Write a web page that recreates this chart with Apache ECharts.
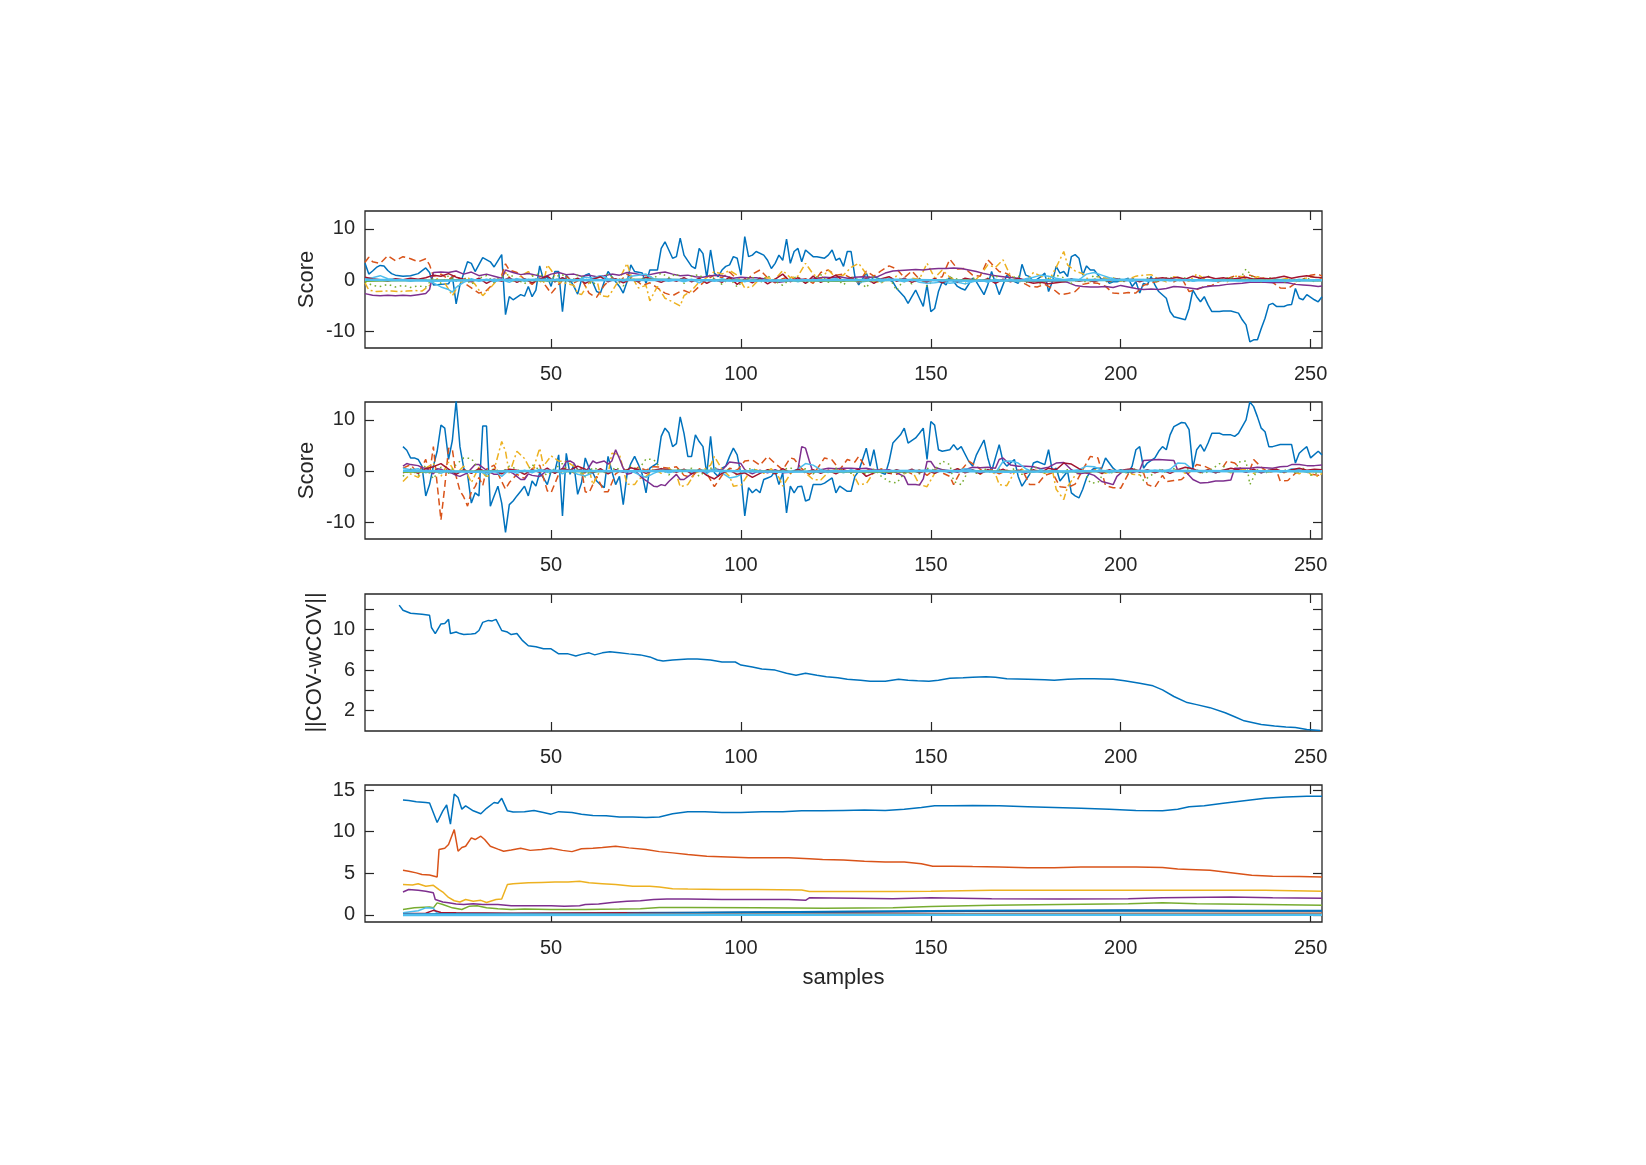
<!DOCTYPE html>
<html>
<head>
<meta charset="utf-8">
<title>scores</title>
<script src="https://cdn.jsdelivr.net/npm/echarts@6/dist/echarts.min.js"></script>
<style>
  html, body { margin: 0; padding: 0; background: #ffffff; }
  #main { width: 1646px; height: 1165px; }
</style>
</head>
<body>
<div id="main"></div>
<script>
// tick values
var xTicks = [50, 100, 150, 200, 250];
var scoreTicks = [-10, 0, 10];
var covTicks = [2, 4, 6, 8, 10, 12];
var covTickLabels = [2, 6, 10];
var eigTicks = [0, 5, 10, 15];

// ---- panel 1: scores ----
var s1Blue = [[1,3.3],[2,1.2],[3,1.8],[4,2.5],[5,2.9],[6,2.8],[7,1.9],[8,1.3],[9,1.0],[11,0.8],[13,0.9],[15,1.3],[17,2.4],[18,1.5],[19,-0.9],[21,-0.8],[23,-0.7],[24,0.8],[25,-4.6],[26,-0.9],[28,3.6],[29,3.3],[30,1.7],[32,4.4],[34,3.6],[35,2.6],[37,5.0],[38,-6.7],[39,-3.2],[40,-3.8],[42,-2.8],[43,-3.1],[44,-1.2],[45,-3.2],[46,-1.9],[47,2.8],[48,0.1],[49,0.7],[50,-1.2],[51,1.7],[52,1.7],[53,-6.1],[54,1.0],[55,0.1],[56,-1.2],[57,-2.7],[58,0.1],[59,1.0],[60,1.3],[62,-2.2],[63,-2.5],[64,-0.3],[65,1.7],[66,0.7],[68,-1.2],[69,-2.5],[70,-0.3],[71,3.0],[72,1.7],[74,1.4],[75,-0.6],[76,2.0],[78,2.0],[79,6.2],[80,7.5],[82,4.3],[83,4.6],[84,8.2],[85,4.9],[87,2.7],[88,2.3],[89,6.2],[90,5.2],[91,0.5],[92,5.9],[93,1.4],[94,0.7],[95,2.0],[96,2.7],[97,3.0],[98,4.6],[99,4.3],[100,1.0],[101,8.5],[102,4.6],[103,4.9],[104,5.6],[106,4.9],[107,3.9],[108,2.3],[109,3.3],[110,4.9],[111,3.9],[112,8.0],[113,3.3],[114,5.6],[115,6.2],[116,3.6],[117,5.9],[119,4.6],[120,4.6],[122,4.3],[123,4.9],[124,5.9],[125,3.9],[126,4.3],[127,2.7],[128,5.6],[129,5.6],[130,0.7],[131,-0.9],[133,1.4],[134,-0.3],[135,0.7],[137,0.1],[139,0.1],[140,-0.3],[141,-1.6],[143,-3.2],[144,-4.5],[145,-3.2],[146,-1.9],[147,-3.5],[148,-5.1],[149,-0.9],[150,-6.1],[151,-5.5],[152,-2.2],[153,-0.3],[154,-0.9],[155,0.7],[157,-1.2],[158,-1.6],[159,-1.9],[161,0.4],[162,-0.3],[164,-2.8],[165,-0.9],[166,1.7],[168,-2.8],[169,-0.9],[170,1.0],[171,0.1],[173,-0.6],[174,3.1],[175,1.0],[176,0.7],[177,-0.3],[179,0.7],[180,1.4],[181,-2.2],[182,-0.3],[183,2.7],[184,1.4],[185,1.7],[186,0.7],[187,4.6],[188,5.0],[189,4.3],[190,1.0],[191,2.8],[192,2.0],[193,2.0],[195,0.1],[196,0.4],[197,-0.6],[198,-0.3],[199,-0.3],[201,0.1],[202,0.4],[203,-1.2],[204,-0.3],[205,-2.5],[206,-0.6],[207,-0.9],[208,0.7],[209,-0.9],[210,-2.2],[212,-3.5],[213,-6.1],[214,-7.1],[216,-7.5],[217,-7.7],[218,-5.5],[219,-1.9],[220,-3.2],[221,-4.2],[222,-3.2],[223,-4.8],[224,-6.1],[226,-6.1],[227,-6.0],[229,-6.0],[231,-6.4],[232,-7.7],[233,-8.7],[234,-12.0],[235,-11.6],[236,-11.6],[237,-9.4],[238,-7.4],[239,-4.8],[240,-4.5],[241,-5.1],[243,-5.1],[244,-4.8],[245,-4.7],[246,-1.6],[247,-3.5],[248,-3.8],[249,-2.8],[251,-3.8],[252,-4.2],[253,-3.2]];
var s1Orange = [[1,3.5],[2,4.5],[3,3.6],[5,3.3],[7,4.8],[9,3.8],[11,4.6],[13,4.2],[15,3.6],[17,4.2],[18,3.0],[19,0.8],[21,1.2],[23,0.2],[25,1.0],[27,-0.5],[29,-1.5],[31,-2.5],[33,-2.0],[35,-0.5],[37,1.0],[38,3.2],[39,2.0],[41,1.5],[43,0.2],[45,-0.8],[47,0.5],[49,-1.5],[50,-2.6],[52,-0.8],[54,0.8],[56,-0.5],[58,0.3],[60,-2.5],[61,-3.0],[62,-3.3],[64,-1.0],[66,0.5],[68,-0.3],[70,1.2],[72,0.3],[74,-1.0],[76,-0.5],[78,-1.5],[80,-2.5],[82,-3.0],[84,-2.2],[85,-2.0],[87,-2.6],[89,-1.2],[91,0.2],[93,1.0],[95,0.5],[97,1.6],[99,0.2],[101,-0.5],[103,1.2],[105,2.0],[107,0.5],[109,-0.5],[111,0.3],[113,0.7],[115,-0.2],[117,0.3],[119,-0.6],[121,1.5],[123,2.0],[125,1.0],[127,1.2],[129,0.4],[131,-0.5],[133,1.8],[135,0.8],[137,1.9],[139,2.8],[141,2.2],[143,0.5],[145,1.8],[147,0.2],[149,-0.6],[151,0.3],[153,0.7],[155,4.1],[157,2.2],[159,2.3],[161,1.0],[163,0.8],[165,4.0],[166,3.2],[168,1.7],[170,1.3],[172,0.2],[174,-0.4],[176,-1.2],[178,-1.3],[180,-0.8],[182,-1.6],[184,-2.8],[186,-2.6],[188,-2.2],[190,-0.8],[192,-0.5],[194,-0.6],[196,-1.2],[198,-2.5],[200,-2.6],[202,-2.4],[204,-2.5],[206,-1.0],[208,-0.5],[210,-0.2],[212,0.3],[214,-0.3],[216,0.5],[218,-2.2],[220,-1.8],[222,-1.2],[224,-1.0],[226,-0.2],[228,0.3],[230,0.8],[232,0.7],[234,1.0],[236,0.5],[238,0.2],[240,-0.4],[242,-1.5],[244,-1.6],[246,-0.6],[248,0.2],[250,1.0],[252,1.2],[253,0.8]];
var s1Yellow = [[1,-0.5],[2,-1.9],[4,-2.2],[6,-2.1],[8,-2.1],[10,-2.2],[12,-2.1],[14,-2.0],[16,-2.1],[18,-1.0],[20,0.3],[22,-0.5],[24,-3.0],[26,-0.5],[28,0.6],[30,-0.8],[32,-3.0],[34,-1.5],[36,0.2],[38,1.5],[40,-0.2],[42,0.8],[44,1.7],[46,0.3],[48,-0.6],[49,3.0],[50,2.0],[52,-0.4],[54,-0.6],[56,-1.0],[57,-2.5],[58,-2.8],[60,-0.5],[62,0.3],[63,-3.0],[65,-3.2],[66,-2.2],[68,0.2],[70,3.3],[71,1.0],[73,-1.5],[75,-1.0],[76,-4.0],[78,-1.2],[80,-3.5],[82,-4.2],[84,-5.0],[85,-3.0],[87,-2.0],[89,-0.3],[91,0.5],[93,1.7],[95,1.2],[97,1.9],[99,1.0],[101,-1.5],[103,-1.2],[105,0.3],[107,0.5],[109,0.2],[111,1.9],[113,0.5],[115,0.8],[117,3.3],[119,1.2],[121,0.2],[123,2.0],[125,0.5],[127,1.0],[129,2.5],[131,3.3],[133,1.2],[135,-0.2],[137,-0.5],[139,0.3],[141,0.8],[143,-0.3],[145,0.4],[147,0.2],[149,3.3],[151,0.5],[153,2.0],[155,0.6],[157,-0.3],[159,0.3],[161,-0.5],[163,1.0],[165,3.0],[167,2.5],[169,4.0],[171,0.8],[173,0.1],[175,-0.3],[177,1.5],[179,0.8],[181,-0.2],[183,2.5],[185,5.6],[186,3.0],[188,1.8],[190,1.3],[192,-0.3],[194,0.7],[196,0.4],[198,0.5],[200,-0.2],[202,0.2],[204,0.8],[206,1.0],[208,1.1],[210,0.2],[212,-0.3],[214,0.7],[216,0.3],[218,-0.2],[220,1.2],[222,0.3],[224,-0.2],[226,0.2],[228,-0.3],[230,0.8],[232,0.7],[234,-0.2],[236,0.7],[238,0.4],[240,-0.2],[242,0.1],[244,0.4],[246,-0.3],[248,0.2],[250,0.7],[252,0.5],[253,0.3]];
var s1Purple = [[1,-2.6],[3,-2.9],[5,-3.0],[7,-2.9],[9,-3.0],[11,-2.9],[13,-3.0],[15,-2.8],[17,-2.6],[18,-1.8],[19,1.5],[21,1.6],[23,1.5],[25,1.8],[27,1.2],[29,1.6],[31,0.9],[33,1.2],[35,0.8],[37,0.4],[38,2.0],[40,1.5],[42,1.1],[44,1.3],[46,1.0],[48,0.6],[50,1.2],[52,1.5],[54,1.1],[56,1.2],[58,0.8],[60,1.0],[62,0.7],[64,0.9],[66,1.2],[68,1.0],[70,1.5],[72,1.3],[74,1.0],[76,1.1],[78,1.4],[80,1.6],[82,1.2],[84,0.9],[86,1.0],[88,0.7],[90,0.6],[92,0.9],[94,1.0],[96,0.8],[98,0.4],[100,0.6],[102,0.5],[104,0.5],[106,0.3],[108,-0.2],[110,-0.4],[112,-0.2],[114,0.1],[116,0.2],[118,0.1],[120,0.4],[122,0.6],[124,0.5],[126,0.7],[128,0.4],[130,0.6],[132,0.7],[134,0.6],[136,0.7],[138,1.4],[140,1.8],[142,1.9],[144,2.0],[146,2.1],[148,2.0],[150,2.2],[152,2.3],[154,2.3],[156,2.4],[158,2.3],[160,2.0],[162,1.7],[164,1.3],[166,1.0],[168,0.8],[170,0.6],[172,0.5],[174,0.2],[176,-0.1],[178,-0.2],[180,-0.3],[182,-0.1],[184,-0.2],[186,-0.4],[188,-1.0],[190,-1.2],[192,-1.3],[194,-1.3],[196,-1.2],[198,-1.4],[200,-1.0],[202,-1.3],[204,-1.6],[206,-1.8],[208,-1.7],[210,-1.8],[212,-1.6],[214,-1.2],[216,-1.3],[218,-1.5],[220,-1.7],[222,-1.3],[224,-1.1],[226,-1.0],[228,-0.8],[230,-0.7],[232,-0.6],[234,-0.4],[236,-0.4],[238,-0.4],[240,-0.5],[242,-0.4],[244,-0.5],[246,-0.8],[248,-0.9],[250,-1.0],[252,-1.2],[253,-1.1]];
var s1Green = [[1,-0.3],[3,-1.0],[5,-1.2],[7,-0.8],[9,-1.3],[11,-1.0],[13,-1.4],[15,-1.1],[17,-1.3],[19,0.5],[21,-0.6],[23,0.9],[25,-0.2],[27,0.6],[29,-0.8],[31,0.4],[33,0.9],[35,-0.4],[37,0.6],[39,1.2],[41,0.2],[43,-0.7],[45,0.8],[47,1.3],[49,-0.3],[51,0.7],[53,1.1],[55,-0.5],[57,1.0],[59,0.3],[61,-0.9],[63,0.5],[65,1.2],[67,0.2],[69,-1.1],[71,0.6],[73,-0.4],[75,1.0],[77,0.4],[79,1.4],[81,0.5],[83,1.3],[85,-0.6],[87,0.8],[89,1.1],[91,-0.3],[93,0.5],[95,-0.8],[97,0.4],[99,-1.3],[101,0.2],[103,0.6],[105,-0.5],[107,0.9],[109,-0.2],[111,-1.0],[113,0.3],[115,0.7],[117,-0.6],[119,0.2],[121,1.1],[123,-0.4],[125,0.5],[127,-0.9],[129,0.6],[131,0.1],[133,-1.5],[135,0.8],[137,-0.3],[139,0.6],[141,-2.0],[143,0.3],[145,-0.7],[147,0.4],[149,-1.2],[151,0.3],[153,-0.5],[155,0.6],[157,0.2],[159,-0.7],[161,0.5],[163,-0.3],[165,0.4],[167,1.0],[169,-0.4],[171,0.3],[173,0.9],[175,-0.5],[177,0.2],[179,-0.8],[181,0.4],[183,1.0],[185,0.5],[187,-0.6],[189,0.3],[191,-0.4],[193,1.0],[195,0.2],[197,-0.5],[199,0.6],[201,-0.3],[203,0.4],[205,-0.2],[207,0.5],[209,-0.4],[211,0.3],[213,0.6],[215,-0.3],[217,0.5],[219,-0.2],[221,0.4],[223,0.8],[225,-0.3],[227,0.3],[229,0.6],[231,-0.2],[233,2.2],[235,0.4],[237,-0.3],[239,0.5],[241,0.2],[243,-0.4],[245,0.3],[247,-0.2],[249,0.5],[251,-0.3],[253,0.2]];
var s1LightBlue = [[1,0.2],[3,0.5],[5,0.9],[7,0.3],[9,0.2],[11,0.1],[13,-0.2],[15,0.1],[17,0.0],[19,-0.5],[21,-1.3],[23,-1.8],[24,-2.3],[25,-1.4],[27,-0.4],[29,0.3],[31,-0.2],[33,0.2],[35,-0.3],[37,0.1],[39,-0.4],[41,0.3],[43,-0.2],[45,0.1],[47,0.3],[49,-0.2],[51,0.1],[53,0.4],[55,-0.3],[57,0.1],[59,0.6],[61,0.4],[63,0.9],[65,0.3],[67,0.1],[69,-0.3],[71,0.8],[73,1.0],[75,1.2],[77,0.3],[79,0.0],[81,-0.2],[83,0.1],[85,-0.3],[87,0.2],[89,-0.5],[91,0.1],[93,-0.2],[95,0.3],[97,-0.1],[99,0.2],[101,-0.3],[103,0.1],[105,0.2],[107,-0.2],[109,0.1],[111,-0.1],[113,0.2],[115,-0.3],[117,0.1],[119,0.0],[121,-0.2],[123,0.1],[125,0.3],[127,-0.1],[129,0.2],[131,-0.4],[133,-0.2],[135,0.1],[137,-0.3],[139,0.3],[141,0.0],[143,-0.3],[145,0.2],[147,-0.4],[149,-0.6],[151,-0.5],[153,-0.3],[155,-0.6],[157,-0.4],[159,-0.7],[161,-0.3],[163,0.1],[165,-0.4],[167,0.2],[169,-0.2],[171,0.1],[173,-0.3],[175,0.3],[177,0.6],[179,1.0],[181,0.8],[183,0.4],[185,0.1],[187,0.3],[189,0.1],[191,1.2],[193,1.5],[195,1.0],[197,0.5],[199,0.2],[201,0.0],[203,-0.2],[205,0.1],[207,-0.2],[209,0.0],[211,0.2],[213,-0.1],[215,0.1],[217,0.3],[219,-0.2],[221,0.1],[223,0.0],[225,-0.2],[227,0.1],[229,0.2],[231,-0.1],[233,0.1],[235,0.3],[237,0.0],[239,-0.2],[241,0.2],[243,0.1],[245,-0.1],[247,0.2],[249,0.0],[251,-0.1],[253,0.1]];
var s1DarkRed = [[1,0.6],[3,0.3],[5,0.1],[7,-0.2],[9,0.3],[11,0.1],[13,0.4],[15,0.2],[17,0.5],[19,1.0],[21,0.8],[23,1.3],[25,0.6],[27,0.2],[29,-0.3],[31,0.4],[33,-0.6],[35,0.2],[37,-0.2],[39,0.5],[41,-0.4],[43,0.3],[45,-0.5],[47,0.2],[49,0.8],[51,-0.3],[53,0.5],[55,-0.2],[57,0.4],[59,-0.6],[61,0.2],[63,0.7],[65,-0.3],[67,0.3],[69,-0.5],[71,0.2],[73,-0.3],[75,0.6],[77,0.1],[79,-0.4],[81,0.3],[83,-0.2],[85,0.5],[87,-0.3],[89,0.4],[91,-0.6],[93,0.2],[95,-0.4],[97,0.6],[99,-0.8],[101,0.3],[103,-0.5],[105,0.4],[107,-0.7],[109,0.2],[111,1.2],[113,-0.3],[115,0.5],[117,-0.6],[119,0.8],[121,-0.4],[123,0.3],[125,1.0],[127,-0.2],[129,0.5],[131,-0.3],[133,0.4],[135,-0.6],[137,0.3],[139,0.7],[141,-0.2],[143,0.4],[145,-0.4],[147,0.2],[149,-0.3],[151,0.3],[153,-0.5],[155,0.2],[157,-0.3],[159,0.4],[161,0.1],[163,-0.2],[165,0.3],[167,-0.6],[169,0.2],[171,-0.3],[173,0.4],[175,-0.2],[177,-0.6],[179,-0.4],[181,-0.7],[183,-0.5],[185,-0.3],[187,0.2],[189,-0.2],[191,0.1],[193,-0.3],[195,0.2],[197,-0.2],[199,0.3],[201,-0.1],[203,0.2],[205,-0.3],[207,0.2],[209,0.3],[211,0.5],[213,0.3],[215,0.6],[217,0.2],[219,0.8],[221,0.4],[223,0.7],[225,0.3],[227,0.5],[229,0.2],[231,0.4],[233,0.6],[235,0.2],[237,0.4],[239,0.3],[241,0.5],[243,0.8],[245,0.4],[247,0.7],[249,0.9],[251,0.6],[253,0.5]];
var s1ZeroA = [[1,0.1],[20,-0.1],[40,0.1],[60,0.0],[80,0.1],[100,-0.1],[120,0.0],[140,0.1],[160,-0.1],[180,0.0],[200,0.1],[220,0.0],[240,-0.1],[253,0.0]];
var s1ZeroB = [[1,-0.2],[25,0.1],[50,-0.1],[75,0.2],[100,0.0],[125,-0.2],[150,0.1],[175,-0.1],[200,0.0],[225,0.1],[253,-0.1]];

// ---- panel 2: scores ----
var s2Blue = [[11,4.8],[12,4.1],[13,2.6],[14,2.6],[15,2.3],[16,1.0],[17,-4.8],[18,-2.6],[19,1.0],[20,3.9],[21,9.0],[22,8.4],[23,2.3],[24,6.0],[25,13.7],[26,4.8],[27,0.6],[28,-0.6],[29,-6.2],[30,-4.2],[31,-4.8],[32,8.8],[33,8.8],[34,-6.8],[35,-4.8],[36,-2.9],[37,-6.2],[38,-11.9],[39,-6.5],[40,-5.8],[41,-4.8],[42,-3.9],[43,-2.9],[44,-4.8],[45,-1.9],[46,-2.9],[47,-0.3],[48,-1.3],[49,-2.6],[50,0.0],[51,0.0],[52,3.2],[53,-8.7],[54,3.5],[55,-0.6],[56,1.3],[57,-4.5],[58,-2.3],[59,2.6],[60,0.6],[61,-0.3],[62,-1.9],[63,-2.6],[64,-3.2],[65,2.9],[66,0.0],[67,-2.6],[68,-1.0],[69,-6.5],[70,-0.6],[71,1.5],[72,2.9],[73,1.3],[74,-0.6],[75,-4.2],[76,0.6],[78,1.6],[79,6.8],[80,8.4],[81,7.5],[82,4.8],[83,5.4],[84,10.6],[85,7.4],[86,2.9],[87,2.9],[88,7.1],[89,5.8],[90,4.8],[91,-0.6],[92,6.8],[93,-0.3],[94,-1.0],[95,0.6],[96,1.0],[97,2.9],[98,4.5],[99,3.2],[100,-0.6],[101,-8.7],[102,-3.2],[103,-4.2],[104,-3.5],[105,-4.2],[106,-1.6],[107,-1.3],[108,-1.0],[109,0.0],[110,-2.6],[111,-0.3],[112,-8.1],[113,-2.9],[114,-4.2],[115,-3.0],[116,-2.9],[117,-5.8],[118,-5.5],[119,-2.6],[121,-2.6],[122,-2.3],[124,-1.3],[125,-4.2],[126,-2.9],[128,-3.9],[129,-3.9],[130,-1.0],[131,0.0],[133,4.5],[134,1.0],[135,4.2],[136,0.3],[137,-0.3],[138,-0.6],[139,1.9],[140,5.5],[142,7.1],[143,8.4],[144,5.5],[146,6.5],[147,7.4],[148,8.4],[149,2.3],[150,9.7],[151,9.0],[152,4.2],[153,3.9],[155,4.2],[156,5.2],[157,4.2],[158,4.8],[160,1.9],[161,1.0],[162,3.2],[164,6.1],[165,2.6],[166,0.0],[168,5.2],[169,1.9],[170,1.0],[172,2.3],[173,-1.0],[174,-2.9],[176,-0.6],[177,1.6],[178,1.9],[180,1.3],[181,4.2],[182,0.0],[183,0.6],[184,-1.9],[186,0.0],[187,-4.2],[188,-4.8],[189,-5.2],[190,-3.5],[191,-1.3],[192,0.0],[193,0.6],[195,0.6],[196,2.6],[198,0.6],[199,0.0],[200,0.3],[202,-0.3],[203,1.0],[204,4.2],[205,4.8],[206,0.6],[207,1.6],[209,2.6],[210,3.9],[211,4.8],[212,4.2],[213,7.1],[214,8.7],[216,9.5],[217,9.4],[218,8.1],[219,0.6],[220,4.2],[221,5.2],[222,3.9],[223,5.5],[224,7.4],[226,7.4],[227,7.1],[229,7.1],[230,6.8],[231,7.4],[232,8.7],[233,10.0],[234,13.5],[235,12.6],[236,10.6],[237,8.4],[238,7.7],[239,4.8],[240,4.8],[242,5.2],[243,5.2],[245,5.2],[246,1.6],[247,3.5],[248,4.2],[249,4.8],[250,2.6],[252,3.9],[253,3.2]];
var s2Orange = [[11,0.6],[13,1.3],[15,-0.5],[17,2.3],[18,-0.6],[19,4.8],[20,-2.5],[21,-9.5],[22,-3.0],[23,4.5],[24,4.3],[25,-1.0],[26,-3.8],[27,-5.0],[28,-6.8],[29,-4.0],[30,-3.0],[31,-1.2],[32,-2.8],[33,0.4],[35,1.2],[37,-2.0],[38,-3.5],[39,-2.2],[41,-0.6],[43,-1.4],[45,0.5],[47,1.2],[49,-3.8],[50,-4.2],[52,-0.6],[54,0.8],[56,-0.3],[58,0.5],[59,-4.0],[60,-4.2],[62,-1.0],[64,-4.0],[65,-4.0],[67,-0.5],[69,0.5],[71,-0.3],[73,0.8],[75,0.2],[77,0.9],[79,0.8],[81,0.6],[83,0.9],[85,-0.8],[87,-1.2],[89,0.5],[91,-0.4],[93,-3.0],[95,-0.8],[97,0.6],[99,0.2],[101,2.0],[103,2.2],[105,1.2],[107,2.9],[109,1.5],[111,0.3],[113,2.6],[114,2.4],[116,0.5],[118,-0.6],[120,0.4],[122,2.6],[124,2.2],[126,0.3],[128,2.3],[130,1.8],[131,2.9],[133,0.6],[135,-0.3],[137,0.5],[139,-0.4],[141,-0.6],[143,0.2],[145,-0.5],[147,0.3],[149,-0.8],[151,0.4],[153,-0.3],[155,-1.0],[156,-2.6],[158,0.2],[160,2.0],[162,1.0],[164,-0.2],[166,0.3],[168,-0.5],[170,0.2],[172,-0.3],[174,0.4],[176,-2.6],[178,-2.6],[180,-0.8],[182,-0.3],[184,-3.0],[186,-3.2],[188,-2.5],[190,0.3],[192,2.9],[194,2.6],[196,-2.8],[198,-3.2],[200,-3.3],[202,-0.5],[204,0.3],[206,-0.3],[207,-2.6],[209,-3.1],[211,-0.8],[212,-2.0],[214,-1.8],[216,-1.6],[218,-0.3],[220,1.3],[222,1.0],[224,0.3],[226,-0.2],[228,2.0],[230,1.6],[232,0.3],[234,0.2],[235,2.3],[237,0.8],[239,-0.3],[241,0.2],[242,-1.9],[244,-1.8],[246,-0.4],[248,0.3],[250,-0.5],[252,-0.8],[253,-0.6]];
var s2Yellow = [[11,-2.0],[13,-0.5],[15,-1.2],[17,0.6],[19,1.5],[21,-1.0],[23,1.8],[25,-0.5],[27,1.0],[29,-2.2],[31,0.8],[33,-1.2],[35,0.3],[37,5.8],[38,3.9],[39,-0.5],[41,3.9],[43,2.5],[45,-0.3],[47,4.5],[48,1.0],[50,3.0],[52,2.0],[54,1.9],[56,1.0],[58,-0.8],[60,0.5],[61,-2.6],[63,0.3],[65,-0.6],[66,3.5],[68,3.3],[70,-2.5],[72,-2.6],[73,-1.5],[75,-1.0],[77,0.5],[79,-0.4],[81,0.6],[83,-0.6],[84,-3.0],[86,-2.6],[88,-0.3],[90,0.2],[92,1.2],[93,2.9],[95,0.4],[97,-1.0],[98,-2.9],[100,-2.7],[102,-0.5],[104,0.3],[106,-0.4],[108,0.5],[110,-1.2],[111,-2.9],[113,-0.5],[115,0.3],[117,-0.3],[119,-1.6],[121,-1.7],[123,-0.2],[125,0.4],[127,-0.3],[129,0.2],[131,-2.6],[133,-2.4],[135,-0.2],[137,0.4],[139,-0.3],[141,0.3],[143,-0.5],[145,0.2],[147,-2.6],[149,-3.0],[151,-0.4],[153,0.3],[155,-0.2],[157,0.6],[159,-0.4],[161,0.3],[163,-0.6],[165,0.2],[167,-0.5],[168,-2.6],[170,-2.8],[172,-0.2],[174,0.4],[176,-0.3],[178,0.2],[180,-0.4],[182,0.3],[183,-3.5],[185,-5.5],[186,-3.0],[188,-0.8],[190,0.3],[192,-0.2],[194,0.5],[196,-0.4],[198,0.2],[200,-0.3],[202,0.4],[203,-0.6],[205,-0.7],[207,0.2],[209,-0.3],[211,0.3],[213,-0.2],[215,0.5],[217,-0.4],[219,0.2],[221,-0.3],[223,0.4],[225,-0.2],[227,0.3],[229,-0.3],[231,0.6],[233,0.2],[235,-0.4],[237,0.3],[239,-0.2],[241,0.4],[243,-0.3],[245,0.2],[247,-0.5],[249,0.2],[250,-0.6],[252,-1.0],[253,-0.4]];
var s2Purple = [[11,1.0],[12,1.5],[13,1.3],[15,1.1],[16,0.7],[17,0.6],[19,-0.5],[20,0.5],[21,0.4],[22,0.0],[24,-0.4],[25,-0.8],[26,-1.0],[28,-0.3],[30,1.3],[31,1.3],[33,0.2],[35,-0.6],[36,-0.6],[38,0.3],[40,-0.4],[42,-1.6],[43,-1.6],[44,-0.5],[45,-0.8],[47,-1.0],[49,0.2],[51,-0.3],[53,0.5],[54,1.9],[55,2.0],[56,1.6],[57,0.3],[58,0.2],[59,-0.3],[61,2.0],[62,1.6],[64,2.0],[65,1.4],[66,2.0],[67,4.2],[68,2.5],[69,0.6],[70,-0.6],[71,-0.4],[72,0.2],[74,-1.3],[75,-1.8],[77,-2.9],[78,-3.0],[79,-2.6],[80,-2.8],[81,-2.0],[83,-0.6],[84,-1.6],[85,-1.6],[87,-0.5],[89,0.3],[91,-0.2],[93,0.5],[95,0.2],[97,1.8],[98,1.7],[100,1.5],[101,0.3],[103,-0.5],[105,0.2],[107,-0.3],[109,0.3],[111,-0.3],[113,-0.2],[115,0.3],[116,4.8],[117,4.5],[118,2.0],[119,-0.3],[121,0.3],[123,0.6],[125,0.5],[127,0.6],[129,0.6],[131,0.5],[133,0.6],[135,0.3],[137,0.2],[139,0.3],[141,-0.3],[143,-1.0],[144,-2.6],[146,-2.6],[147,-2.7],[148,-1.5],[149,1.9],[150,1.9],[151,0.8],[153,0.3],[155,0.1],[157,-0.2],[159,0.3],[161,0.8],[163,0.7],[165,0.8],[167,0.6],[168,2.3],[169,2.6],[171,1.2],[173,1.0],[175,1.0],[177,0.9],[179,0.5],[181,0.8],[183,1.6],[185,1.7],[187,0.3],[189,-0.5],[191,-0.3],[193,-0.8],[195,-2.0],[197,-2.4],[198,-2.6],[199,-1.0],[201,0.3],[203,-0.3],[205,0.2],[206,2.1],[208,2.2],[210,2.3],[212,2.2],[214,2.1],[215,0.2],[217,0.0],[219,-1.6],[221,-2.3],[223,-2.2],[225,-1.9],[227,-1.9],[229,-1.7],[230,0.6],[232,0.6],[234,0.6],[236,0.8],[238,0.7],[240,0.6],[242,0.9],[244,1.0],[245,1.3],[247,1.3],[249,1.1],[251,1.1],[253,1.2]];
var s2Green = [[11,-1.0],[13,0.5],[15,-0.8],[17,1.2],[19,-1.5],[21,0.8],[23,-0.4],[25,1.3],[27,2.6],[29,2.5],[31,0.3],[33,-1.0],[35,0.6],[37,-0.4],[39,1.0],[41,0.4],[43,-0.6],[45,1.3],[47,0.2],[49,-0.8],[51,0.6],[53,1.5],[55,-0.3],[57,0.4],[59,-1.1],[61,0.7],[63,0.2],[65,-0.5],[67,0.8],[69,-0.2],[71,1.0],[73,0.3],[75,2.4],[77,2.3],[79,0.5],[81,-0.7],[83,0.4],[85,-0.3],[87,0.6],[89,-1.0],[91,0.3],[93,0.8],[95,-0.4],[97,0.5],[99,-0.8],[101,0.2],[103,0.6],[105,-0.3],[107,0.4],[109,-0.6],[111,0.3],[113,0.7],[115,-0.2],[117,0.5],[119,-0.5],[121,0.4],[123,-0.3],[125,0.6],[127,0.2],[129,-0.4],[131,0.3],[133,-0.6],[135,0.4],[137,-1.0],[139,-2.0],[141,-2.3],[143,-0.4],[145,0.3],[147,-0.5],[149,0.6],[151,0.2],[153,2.0],[155,1.3],[156,-2.0],[158,-2.6],[160,0.3],[162,-0.4],[164,0.5],[166,-0.3],[168,0.4],[170,-0.2],[172,0.5],[174,-0.6],[176,0.3],[178,0.8],[180,-0.3],[182,0.4],[184,-0.5],[186,0.3],[188,-0.2],[190,0.5],[192,-2.3],[194,-2.2],[196,0.3],[198,-0.4],[200,0.2],[202,-0.5],[204,0.6],[206,-1.8],[208,-0.8],[210,0.4],[212,-0.3],[214,0.5],[216,-0.2],[218,0.6],[220,0.3],[222,-0.5],[224,0.4],[226,1.5],[228,0.5],[230,-0.4],[231,1.8],[233,2.0],[234,-2.6],[236,0.3],[238,-0.4],[240,0.5],[242,-0.2],[244,0.4],[246,-0.3],[248,0.6],[250,-0.8],[252,-0.2],[253,0.3]];
var s2LightBlue = [[11,0.6],[13,0.3],[15,0.5],[17,-0.3],[19,0.2],[21,-0.4],[23,0.3],[25,-0.5],[27,0.2],[29,-0.3],[31,0.1],[33,-0.6],[35,0.2],[37,-1.0],[39,0.3],[41,-0.4],[43,0.2],[45,-0.3],[47,0.4],[49,-0.2],[51,0.1],[53,-0.5],[55,0.3],[57,-0.6],[59,-0.9],[61,-0.3],[63,0.2],[65,-0.4],[67,0.3],[69,-0.2],[71,0.1],[73,-0.6],[75,-1.2],[77,-0.4],[79,0.2],[81,-0.3],[83,0.1],[85,0.3],[87,-0.2],[89,0.2],[91,-0.4],[93,0.5],[95,-0.3],[97,-1.3],[99,-1.0],[101,-0.2],[103,0.3],[105,-0.2],[107,0.1],[109,-0.3],[111,0.2],[113,-0.1],[115,0.4],[117,1.5],[119,1.2],[121,0.3],[123,-0.2],[125,0.2],[127,-0.3],[129,0.3],[131,-0.2],[133,0.1],[135,-0.3],[137,0.2],[139,-0.1],[141,0.2],[143,-0.3],[145,0.1],[147,-0.2],[149,0.3],[151,-0.2],[153,0.1],[155,-0.3],[157,0.2],[159,0.5],[161,0.3],[163,-0.2],[165,0.2],[167,-0.3],[169,1.9],[171,2.0],[173,1.6],[175,0.5],[177,-0.2],[179,0.3],[181,-0.1],[183,0.2],[185,-0.3],[187,0.1],[189,0.3],[191,1.0],[193,0.9],[195,0.2],[197,-0.3],[199,0.1],[201,-0.2],[203,0.3],[205,0.0],[207,-0.2],[209,0.2],[211,-0.1],[213,0.4],[215,1.6],[217,1.5],[219,0.3],[221,-0.2],[223,0.1],[225,-0.3],[227,0.2],[229,-0.1],[231,0.2],[233,-0.2],[235,0.1],[237,-0.3],[239,0.2],[241,0.0],[243,-0.2],[245,0.5],[247,0.3],[249,-0.2],[251,0.1],[253,-0.1]];
var s2DarkRed = [[11,-0.3],[13,0.2],[15,-0.4],[17,0.5],[19,0.9],[21,1.5],[23,0.4],[25,-0.6],[27,0.3],[29,-0.4],[31,0.5],[33,-0.2],[35,0.3],[37,-0.5],[39,0.4],[41,0.2],[43,-0.6],[45,0.3],[47,-0.2],[49,0.6],[51,-0.4],[53,0.5],[55,0.2],[57,1.0],[59,0.4],[61,-0.3],[63,0.5],[65,-0.5],[67,0.3],[69,-0.2],[71,0.7],[73,0.3],[75,-0.4],[77,0.2],[79,0.5],[81,0.3],[83,-0.2],[85,0.4],[87,-0.5],[89,0.3],[91,-0.8],[93,-1.5],[95,-0.4],[97,0.2],[99,-0.6],[101,-0.3],[103,-1.2],[105,-0.4],[107,0.3],[109,-0.5],[111,0.5],[113,-0.3],[115,0.4],[117,-0.2],[119,0.3],[121,-0.4],[123,0.2],[125,-0.5],[127,0.3],[129,-0.2],[131,0.4],[133,-1.0],[135,-0.3],[137,0.2],[139,-0.4],[141,0.3],[143,-0.2],[145,0.4],[147,-0.3],[149,0.2],[151,-0.4],[153,0.3],[155,-0.2],[157,0.5],[159,-0.3],[161,0.2],[163,-0.5],[165,0.3],[167,-0.2],[169,0.4],[171,-0.3],[173,0.2],[175,-0.4],[177,0.3],[179,-0.2],[181,0.6],[183,0.3],[185,1.6],[187,1.4],[189,0.5],[191,-0.3],[193,0.2],[195,-0.4],[197,0.3],[199,-0.2],[201,0.3],[203,0.5],[205,-0.2],[207,0.3],[209,-0.3],[211,0.2],[213,-0.4],[215,0.3],[217,0.8],[219,0.5],[221,-0.2],[223,0.3],[225,-0.3],[227,0.2],[229,0.6],[231,0.3],[233,-0.2],[235,0.4],[237,-0.3],[239,0.2],[241,0.4],[243,-0.2],[245,0.3],[247,0.6],[249,0.2],[251,0.4],[253,0.3]];
var s2ZeroA = [[11,0.1],[30,-0.1],[50,0.1],[70,0.0],[90,0.1],[110,-0.1],[130,0.0],[150,0.1],[170,-0.1],[190,0.0],[210,0.1],[230,0.0],[253,0.0]];
var s2ZeroB = [[11,-0.2],[35,0.1],[60,-0.1],[85,0.2],[110,0.0],[135,-0.2],[160,0.1],[185,-0.1],[210,0.0],[235,0.1],[253,-0.1]];

// ---- panel 3: ||COV-wCOV|| ----
var covNorm = [[10,12.4],[11,11.9],[13,11.6],[16,11.5],[17,11.45],[18,11.4],[18.5,10.2],[19.5,9.6],[20,9.6],[21,10.55],[22,10.6],[23,11.0],[23.5,9.6],[25,9.75],[26,9.6],[27,9.5],[29,9.55],[30,9.6],[31,9.9],[32,10.7],[33.5,10.9],[34.5,10.85],[35.5,11.0],[36,11.1],[37,9.9],[38.5,9.75],[39.5,9.5],[41,9.6],[42.5,8.9],[44,8.4],[46,8.3],[48,8.1],[50,8.1],[52,7.6],[54.5,7.6],[56.5,7.4],[58,7.55],[60,7.7],[61.5,7.5],[63.5,7.7],[65.5,7.8],[68,7.7],[70.5,7.6],[73.5,7.5],[76,7.3],[78,7.0],[79.5,6.9],[82,7.0],[86,7.1],[88.5,7.1],[92,7.0],[95,6.8],[98.5,6.8],[100,6.5],[103,6.3],[105.5,6.1],[109,6.0],[112,5.7],[114.5,5.5],[117,5.7],[120,5.5],[122.5,5.35],[125.5,5.25],[128,5.1],[131.5,5.0],[134,4.9],[138,4.9],[141.5,5.1],[144,5.0],[146.5,4.95],[149.5,4.9],[152,5.0],[155,5.2],[158.5,5.25],[161,5.3],[164.5,5.35],[167,5.3],[170,5.15],[175.5,5.1],[180,5.05],[182.5,5.0],[186,5.1],[189.5,5.15],[193,5.15],[198,5.1],[201,4.95],[205,4.7],[208.5,4.45],[211,4.05],[214,3.4],[217.5,2.8],[220,2.6],[223.5,2.3],[227.5,1.8],[230,1.4],[232.5,1.0],[237,0.65],[240.5,0.5],[243.5,0.4],[246,0.35],[249,0.15],[252.5,0.05]];

// ---- panel 4: eigenvalues ----
var e4Blue = [[11,13.8],[12.5,13.75],[14.5,13.6],[17,13.5],[18,13.45],[20,11.1],[21.5,12.5],[22.5,13.2],[23.5,10.9],[24.5,14.5],[25.5,14.1],[26.5,12.7],[27.5,13.1],[29.5,12.5],[31.5,12.15],[33,12.8],[35,13.5],[36,13.4],[37,14.0],[38.5,12.5],[40,12.35],[43,12.4],[45.5,12.55],[48,12.3],[50,12.1],[52,12.4],[55.5,12.3],[58,12.1],[61,11.95],[64.5,11.9],[68,11.75],[71.5,11.75],[75,11.7],[78.5,11.75],[82,12.15],[86,12.4],[90.5,12.4],[95,12.3],[100,12.3],[105.5,12.4],[111,12.4],[116,12.5],[121.5,12.5],[127,12.55],[132.5,12.6],[138,12.55],[143,12.7],[147.5,12.9],[151,13.1],[155.5,13.1],[161,13.15],[168,13.1],[175.5,13.0],[182.5,12.9],[189.5,12.8],[197,12.7],[204,12.55],[211,12.5],[215,12.7],[218,13.0],[222,13.1],[227,13.4],[232.5,13.7],[238,14.0],[243.5,14.15],[249,14.25],[253,14.25]];
var e4Orange = [[11,5.35],[12.5,5.25],[14.5,5.05],[16,4.85],[18,4.8],[20,4.55],[20.5,7.85],[22,8.0],[23,8.45],[23.5,8.6],[24.5,10.25],[25.5,7.65],[26.5,8.1],[27.5,8.25],[29,9.25],[30,9.05],[31.5,9.45],[32.5,9.05],[34,8.25],[36,7.9],[37.5,7.65],[39.5,7.8],[42,8.0],[44.5,7.75],[47.5,7.85],[50,8.0],[53,7.75],[55.5,7.6],[58,7.95],[61,8.0],[63.5,8.1],[67,8.25],[70.5,8.05],[75,7.85],[78.5,7.6],[82,7.45],[86,7.25],[91,7.05],[96.5,6.95],[102,6.85],[107.5,6.85],[112.5,6.85],[118,6.75],[121.5,6.65],[127,6.6],[132.5,6.45],[138,6.35],[143,6.35],[147.5,6.15],[150.5,5.85],[155.5,5.85],[161,5.8],[168,5.75],[175.5,5.65],[182.5,5.65],[189.5,5.75],[197,5.75],[204,5.75],[211,5.7],[215,5.5],[218,5.45],[223.5,5.35],[229,5.05],[234.5,4.75],[240,4.65],[247,4.6],[253,4.55]];
var e4Yellow = [[11,3.65],[13.5,3.6],[15,3.75],[17,3.45],[19,3.55],[20.5,3.05],[21.5,2.75],[23,2.1],[24.5,1.7],[26,1.55],[27.5,1.85],[29.5,1.65],[31.5,1.75],[33,1.5],[35.5,1.85],[37,1.9],[38.5,3.65],[40,3.75],[44,3.85],[47.5,3.9],[51,3.95],[54.5,3.95],[57.5,4.05],[60,3.85],[63.5,3.75],[67,3.65],[71.5,3.45],[76,3.45],[78.5,3.35],[82,3.15],[86,3.1],[95,3.05],[104,3.05],[116,3.0],[118,2.8],[130,2.8],[140,2.8],[150,2.85],[166,2.95],[193,2.95],[220,2.95],[238,2.95],[253,2.85]];
var e4Purple = [[11,2.75],[12.5,3.05],[15,2.95],[17,2.85],[19,2.65],[19.5,1.85],[21.5,1.55],[23,1.45],[25,1.3],[27,1.25],[29.5,1.35],[32,1.25],[36,1.25],[39.5,1.1],[43,1.1],[46.5,1.1],[50,1.1],[53.5,1.05],[57.5,1.1],[59,1.25],[62.5,1.3],[66,1.5],[70,1.65],[73.5,1.7],[77,1.85],[80.5,1.9],[86,1.9],[95,1.85],[104,1.85],[112.5,1.85],[117,1.75],[118,2.05],[130,2.0],[140,1.95],[150,2.05],[166,1.95],[184,1.9],[202,1.95],[211,2.05],[229,2.15],[240,2.05],[253,2.0]];
var e4Green = [[11,0.65],[14,0.85],[18,0.95],[19,0.85],[20,1.45],[21.5,1.25],[24,0.85],[26.5,0.65],[28.5,1.05],[30.5,1.1],[33,0.85],[36,0.75],[39.5,0.65],[43,0.7],[50,0.65],[59,0.65],[68,0.7],[73.5,0.75],[78.5,0.9],[86,0.9],[104,0.85],[122,0.8],[140,0.85],[150,1.0],[166,1.15],[184,1.25],[202,1.35],[211,1.45],[220,1.35],[238,1.25],[253,1.15]];
var e4LightBlue = [[11,0.25],[15,0.5],[17,0.85],[19,0.8],[20,0.2],[25,0.2],[40,0.2],[60,0.25],[80,0.3],[100,0.35],[120,0.38],[150,0.4],[180,0.42],[210,0.45],[240,0.42],[253,0.42]];
var e4DarkRed = [[11,0.15],[17,0.2],[19,0.55],[21,0.3],[25,0.25],[40,0.2],[70,0.25],[100,0.3],[130,0.35],[160,0.45],[190,0.5],[210,0.55],[230,0.5],[253,0.5]];
var e4BlueLow = [[11,0.05],[20,0.1],[40,0.1],[70,0.15],[100,0.3],[130,0.4],[160,0.5],[200,0.55],[230,0.5],[253,0.5]];
var e4OrangeLow = [[11,0.02],[30,0.05],[60,0.08],[100,0.12],[150,0.15],[200,0.18],[253,0.2]];
var e4Zero = [[11,0.01],[100,0.02],[200,0.02],[253,0.02]];

var FONT = '"Liberation Sans", Arial, Helvetica, sans-serif';
var INK = '#262626';
var C = {
  blue: '#0072BD', orange: '#D95319', yellow: '#EDB120', purple: '#7E2F8E',
  green: '#77AC30', lightblue: '#4DBEEE', darkred: '#A2142F'
};
var DASH = [7, 4];
var DASHDOT = [7, 3, 2, 3];
var DOT = [1.6, 3.6];

var gridTops = [211, 402, 594, 785];
var gridHeight = 137;

function makeGrid(i) {
  return {
    left: 365, right: 324, top: gridTops[i], height: gridHeight,
    show: true, borderColor: INK, borderWidth: 1.3, backgroundColor: 'transparent'
  };
}

// ticks point inward on every side, like a boxed plot
function tickStyle(values) {
  return { inside: true, length: 9, customValues: values, lineStyle: { color: INK, width: 1.2 } };
}

function xAxes(i, withName) {
  var bottom = {
    type: 'value', gridIndex: i, min: 1, max: 253, position: 'bottom',
    axisLine: { show: false, onZero: false },
    axisTick: tickStyle(xTicks),
    axisLabel: { customValues: xTicks, color: INK, fontSize: 20, fontFamily: FONT, margin: 16 },
    splitLine: { show: false }
  };
  if (withName) {
    bottom.name = 'samples';
    bottom.nameLocation = 'middle';
    bottom.nameGap = 45;
    bottom.nameMoveOverlap = false;
    bottom.nameTextStyle = { color: INK, fontSize: 22, fontFamily: FONT };
  }
  var top = {
    type: 'value', gridIndex: i, min: 1, max: 253, position: 'top',
    axisLine: { show: false, onZero: false },
    axisTick: tickStyle(xTicks),
    axisLabel: { show: false },
    splitLine: { show: false }
  };
  return [bottom, top];
}

function yAxes(i, min, max, ticks, labels, name, gap) {
  var left = {
    type: 'value', gridIndex: i, min: min, max: max, position: 'left',
    axisLine: { show: false, onZero: false },
    axisTick: tickStyle(ticks),
    axisLabel: { customValues: labels, color: INK, fontSize: 20, fontFamily: FONT, margin: 10 },
    splitLine: { show: false }
  };
  if (name) {
    left.name = name;
    left.nameLocation = 'middle';
    left.nameRotate = 90;
    left.nameGap = gap;
    left.nameMoveOverlap = false;
    left.nameTextStyle = { color: INK, fontSize: 22, fontFamily: FONT };
  }
  var right = {
    type: 'value', gridIndex: i, min: min, max: max, position: 'right',
    axisLine: { show: false, onZero: false },
    axisTick: tickStyle(ticks),
    axisLabel: { show: false },
    splitLine: { show: false }
  };
  return [left, right];
}

function line(i, data, color, dash, width) {
  return {
    type: 'line', xAxisIndex: i * 2, yAxisIndex: i * 2, data: data,
    symbol: 'none', showSymbol: false, silent: true, animation: false, clip: true,
    lineStyle: { color: color, width: width || 1.5, type: dash || 'solid' }
  };
}

var grids = [], xs = [], ys = [];
for (var g = 0; g < 4; g++) {
  grids.push(makeGrid(g));
  xs = xs.concat(xAxes(g, g === 3));
}
ys = ys.concat(yAxes(0, -13.2, 13.5, scoreTicks, scoreTicks, 'Score', 47));
ys = ys.concat(yAxes(1, -13.2, 13.5, scoreTicks, scoreTicks, 'Score', 47));
ys = ys.concat(yAxes(2, 0, 13.5, covTicks, covTickLabels, '||COV-wCOV||', 39));
ys = ys.concat(yAxes(3, -0.85, 15.6, eigTicks, eigTicks, null, 0));

var series = [
  line(0, s1Blue, C.blue),
  line(0, s1Orange, C.orange, DASH),
  line(0, s1Yellow, C.yellow, DASHDOT),
  line(0, s1Purple, C.purple),
  line(0, s1Green, C.green, DOT),
  line(0, s1LightBlue, C.lightblue),
  line(0, s1DarkRed, C.darkred),
  line(0, s1ZeroB, C.green),
  line(0, s1ZeroA, C.lightblue, null, 2.6),

  line(1, s2Blue, C.blue),
  line(1, s2Orange, C.orange, DASH),
  line(1, s2Yellow, C.yellow, DASHDOT),
  line(1, s2Purple, C.purple),
  line(1, s2Green, C.green, DOT),
  line(1, s2LightBlue, C.lightblue),
  line(1, s2DarkRed, C.darkred),
  line(1, s2ZeroB, C.green),
  line(1, s2ZeroA, C.lightblue, null, 2.6),

  line(2, covNorm, C.blue),

  line(3, e4Blue, C.blue),
  line(3, e4Orange, C.orange),
  line(3, e4Yellow, C.yellow),
  line(3, e4Purple, C.purple),
  line(3, e4Green, C.green),
  line(3, e4LightBlue, C.lightblue),
  line(3, e4DarkRed, C.darkred),
  line(3, e4BlueLow, C.blue, null, 2),
  line(3, e4OrangeLow, C.orange),
  line(3, e4Zero, C.lightblue, null, 2.6)
];

var chart = echarts.init(document.getElementById('main'), null, { renderer: 'canvas' });
chart.setOption({
  backgroundColor: '#ffffff',
  animation: false,
  textStyle: { fontFamily: FONT },
  grid: grids,
  xAxis: xs,
  yAxis: ys,
  series: series
});
</script>
</body>
</html>
